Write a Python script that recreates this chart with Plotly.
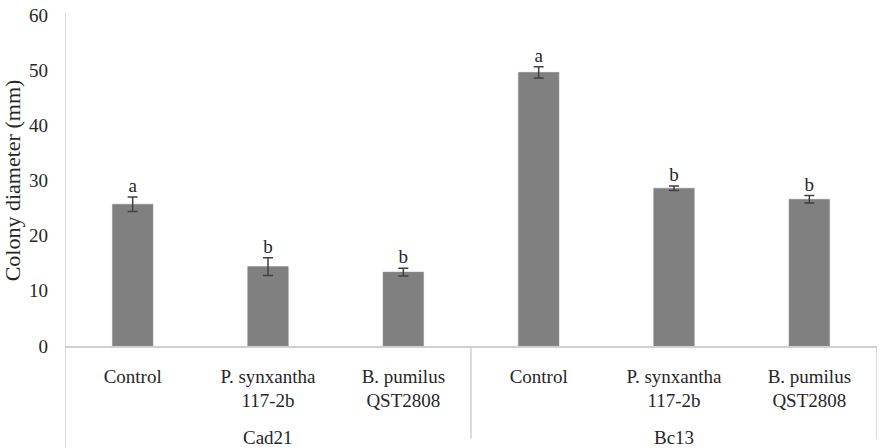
import plotly.graph_objects as go

pathogens = ["Cad21", "Cad21", "Cad21", "Bc13", "Bc13", "Bc13"]
treatments = ["Control", "P. synxantha<br>117-2b", "B. pumilus<br>QST2808",
              "Control", "P. synxantha<br>117-2b", "B. pumilus<br>QST2808"]
diameter = [25.7, 14.4, 13.4, 49.6, 28.6, 26.6]
errors = [1.3, 1.6, 0.7, 1.0, 0.4, 0.7]
letters = ["a", "b", "b", "a", "b", "b"]
groups = ["Cad21", "Bc13"]

font_family = "Liberation Serif"
txt_color = "#262626"
line_color = "#d0d0d0"
categories = [f"{p}|{t}" for p, t in zip(pathogens, treatments)]

fig = go.Figure()
fig.add_trace(go.Bar(
    x=categories, y=diameter,
    marker=dict(color="#808080", line=dict(color="#8c8c8c", width=0.5)),
    width=0.3,
    error_y=dict(type="data", array=errors, visible=True, color="#404040",
                 thickness=1.5, width=5),
    hoverinfo="skip",
))
fig.add_trace(go.Scatter(
    x=categories, y=[d + e for d, e in zip(diameter, errors)],
    mode="text", text=letters, textposition="top center",
    textfont=dict(family=font_family, size=19, color=txt_color),
    hoverinfo="skip",
))

# group labels and dividers
n_per = len(categories) // len(groups)
for gi, g in enumerate(groups):
    fig.add_annotation(x=gi * n_per + (n_per - 1) / 2, xref="x", y=-0.275, yref="paper",
                       text=g, showarrow=False, yanchor="middle",
                       font=dict(family=font_family, size=19, color=txt_color))
for b in range(len(groups) + 1):
    xb = b * n_per - 0.5
    fig.add_shape(type="line", xref="x", yref="paper", x0=xb, x1=xb,
                  y0=-0.28 if b > 0 else -0.31, y1=0 if b > 0 else 1.005,
                  line=dict(color=line_color, width=1.5))

fig.update_layout(
    width=886, height=448,
    margin=dict(l=65, r=9, t=15, b=102, autoexpand=False),
    paper_bgcolor="white", plot_bgcolor="white",
    showlegend=False,
    font=dict(family=font_family, size=19, color=txt_color),
)
fig.update_yaxes(
    range=[0, 60], dtick=10, showgrid=False, zeroline=False,
    showline=False, ticks="", automargin=False, ticklabelstandoff=16,
    tickfont=dict(family=font_family, size=19, color=txt_color),
    title=dict(text="Colony diameter (mm)", font=dict(family=font_family, size=22, color=txt_color), standoff=4),
)
fig.update_xaxes(
    type="category", range=[-0.5, len(categories) - 0.5],
    tickvals=categories, ticktext=treatments,
    showline=True, linecolor=line_color, linewidth=1.5,
    ticks="", automargin=False, tickangle=0, ticklabelstandoff=12,
    tickfont=dict(family=font_family, size=19, color=txt_color),
)

fig.write_html("out.html", config={"displayModeBar": False},
               post_script="document.body.style.margin='0';")
